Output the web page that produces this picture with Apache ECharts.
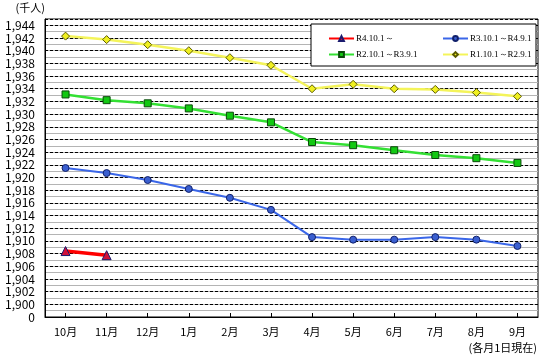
<!DOCTYPE html>
<html>
<head>
<meta charset="utf-8">
<script src="https://cdn.jsdelivr.net/npm/echarts@6/dist/echarts.min.js"></script>
<style>html,body{margin:0;padding:0;background:#fff;}#c{width:548px;height:360px;}</style>
</head>
<body>
<div id="c"></div>
<script>
const categories = ['10月','11月','12月','1月','2月','3月','4月','5月','6月','7月','8月','9月'];
const seriesNames = ['R4.10.1～','R3.10.1～R4.9.1','R2.10.1～R3.9.1','R1.10.1～R2.9.1'];
const r4 = [1908.4, 1907.75, null, null, null, null, null, null, null, null, null, null];
const r3 = [1921.5, 1920.7, 1919.6, 1918.2, 1916.8, 1914.9, 1910.6, 1910.2, 1910.2, 1910.6, 1910.2, 1909.2];
const r2 = [1933.1, 1932.2, 1931.7, 1930.9, 1929.75, 1928.7, 1925.6, 1925.1, 1924.3, 1923.55, 1923.05, 1922.3];
const r1 = [1942.3, 1941.75, 1940.95, 1940.0, 1938.9, 1937.7, 1934.0, 1934.7, 1934.0, 1933.9, 1933.4, 1932.8];
const yMin = 1898, yMax = 1945;
const unitLabel = '(千人)';
const noteLabel = '(各月1日現在)';

const FONT = '"Noto Sans CJK JP", sans-serif';
const LEGEND_FONT = '"Liberation Serif", serif';
const chart = echarts.init(document.getElementById('c'));
const legendCommon = {orient: 'vertical', top: 29, itemWidth: 25, itemHeight: 6, itemGap: 7, z: 5,
  textStyle: {fontSize: 9, color: '#000', fontFamily: LEGEND_FONT, padding: [0, 0, 0, -3]}};
chart.setOption({
  animation: false,
  textStyle: {fontFamily: FONT},
  title: {text: noteLabel, right: 6, bottom: 2, textStyle: {fontSize: 11, fontWeight: 'normal', color: '#000', fontFamily: FONT}},
  grid: {left: 45, right: 10, top: 19, bottom: 43, show: true, borderColor: '#000', borderWidth: 1},
  graphic: {elements: [{type: 'rect', z: 3, shape: {x: 311, y: 24, width: 225, height: 42}, style: {fill: '#fff', stroke: '#000', lineWidth: 1}}]},
  legend: [
    Object.assign({left: 323, data: [seriesNames[0], seriesNames[2]]}, legendCommon),
    Object.assign({left: 437, data: [seriesNames[1], seriesNames[3]]}, legendCommon)
  ],
  xAxis: {
    type: 'category', data: categories, boundaryGap: true,
    axisLine: {lineStyle: {color: '#000', width: 1}},
    axisTick: {show: true, inside: true, alignWithLabel: true, length: 4, lineStyle: {color: '#000'}},
    axisLabel: {color: '#000', fontSize: 11, margin: 9, fontFamily: FONT}
  },
  yAxis: [
    {
      type: 'value', min: yMin, max: yMax, interval: 1,
      name: unitLabel, nameLocation: 'end', nameGap: 4,
      nameTextStyle: {color: '#000', fontSize: 11, align: 'right', padding: [0, 0, 2, 0], fontFamily: FONT},
      axisLine: {show: true, lineStyle: {color: '#000'}},
      axisTick: {show: false},
      axisLabel: {color: '#000', fontSize: 12, margin: 10, fontFamily: FONT,
        formatter: function (v) {
          if (v === yMin) return '0';
          if (v % 2 !== 0) return '';
          return String(v).replace(/(\d)(\d{3})$/, '$1,$2');
        }},
      splitLine: {show: true, lineStyle: {color: '#b4b4b4', width: 1, type: 'solid'}}
    },
    {
      type: 'value', min: yMin, max: yMax, interval: 2, position: 'left',
      axisLine: {show: false}, axisTick: {show: false}, axisLabel: {show: false},
      splitLine: {show: true, lineStyle: {color: '#000', width: 1, type: [3, 2]}}
    }
  ],
  series: [
    {name: seriesNames[0], type: 'line', data: r4, yAxisIndex: 0, z: 4,
     symbol: 'triangle', symbolSize: 9, showAllSymbol: true,
     lineStyle: {color: '#ff0000', width: 3.5},
     itemStyle: {color: '#d0103a', borderColor: '#1a1a6e', borderWidth: 1}},
    {name: seriesNames[1], type: 'line', data: r3, yAxisIndex: 0, z: 3,
     symbol: 'circle', symbolSize: 7, showAllSymbol: true,
     lineStyle: {color: '#3a66e8', width: 2},
     itemStyle: {color: '#3a5fd0', borderColor: '#10206a', borderWidth: 1}},
    {name: seriesNames[2], type: 'line', data: r2, yAxisIndex: 0, z: 3,
     symbol: 'rect', symbolSize: 7, showAllSymbol: true,
     lineStyle: {color: '#33e033', width: 2.5},
     itemStyle: {color: '#12c812', borderColor: '#0a4a0a', borderWidth: 1}},
    {name: seriesNames[3], type: 'line', data: r1, yAxisIndex: 0, z: 3,
     symbol: 'diamond', symbolSize: 8, showAllSymbol: true,
     lineStyle: {color: '#f4f45a', width: 2.5},
     itemStyle: {color: '#f0f020', borderColor: '#5a5a00', borderWidth: 1}}
  ]
});
</script>
</body>
</html>
